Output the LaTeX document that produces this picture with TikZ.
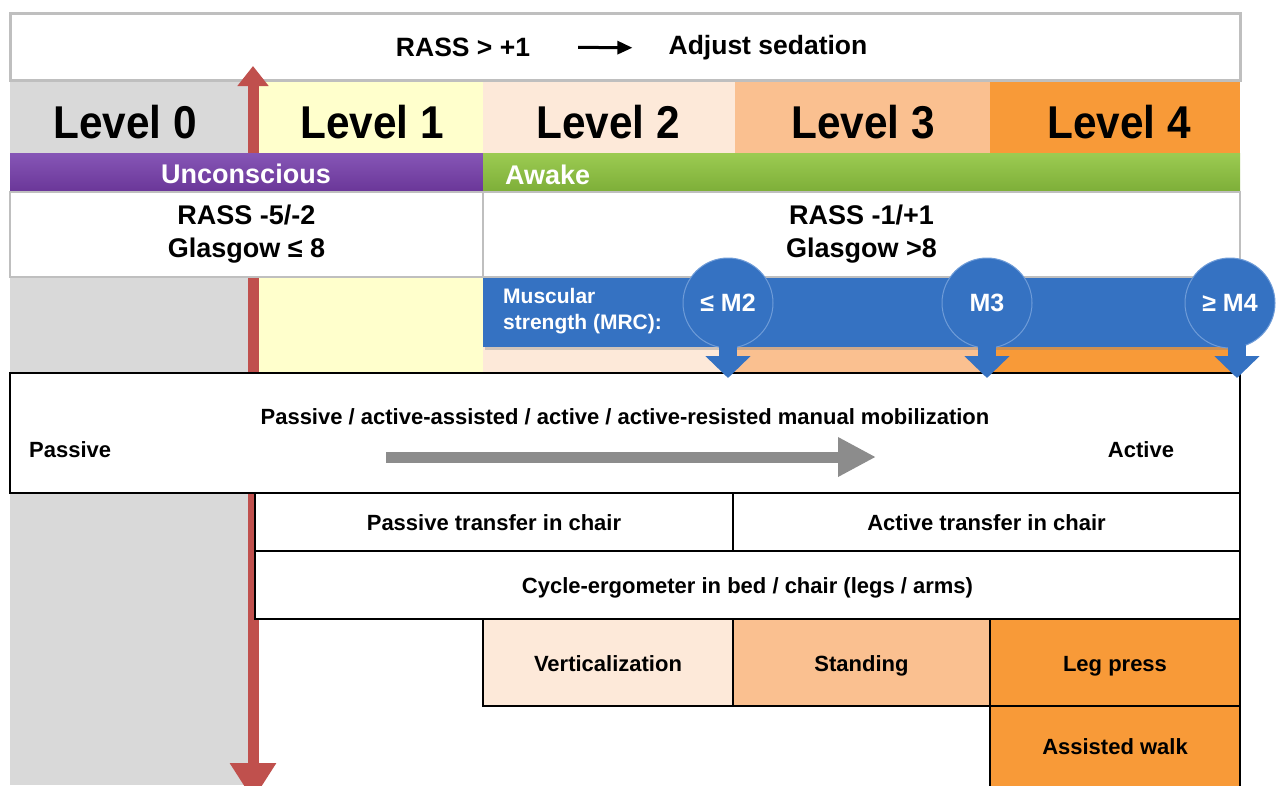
\documentclass[tikz,border=0pt]{standalone}
\usepackage{fontspec}
\setmainfont{Liberation Sans}
\newfontfamily\lvlfont[FakeStretch=0.92]{Liberation Sans}
\usetikzlibrary{arrows.meta,shadows}
\definecolor{lv0}{HTML}{D9D9D9}
\definecolor{lv1}{HTML}{FFFFCC}
\definecolor{lv2}{HTML}{FDE9D9}
\definecolor{lv3}{HTML}{FAC090}
\definecolor{lv4}{HTML}{F89A38}
\definecolor{purpT}{HTML}{8656B6}
\definecolor{purpB}{HTML}{6A3698}
\definecolor{grnT}{HTML}{9CCB52}
\definecolor{grnB}{HTML}{7DAE38}
\definecolor{blu}{HTML}{3572C2}
\definecolor{bluedge}{HTML}{6F9CD8}
\definecolor{redarr}{HTML}{C0504D}
\definecolor{grayarr}{HTML}{8C8C8C}
\definecolor{bord}{HTML}{BFBFBF}
\newcommand\fsz[2]{\fontsize{#1}{#2}\selectfont\bfseries}
\tikzset{
  cell/.style={rectangle, anchor=north west, inner sep=0pt, outer sep=0pt},
  blk/.style={cell, draw=black, line width=1.5pt, text height=19pt, text depth=2pt},
  lvl/.style={inner sep=0pt, font=\lvlfont\fsz{46}{50}},
  big/.style={inner sep=0pt, font=\fsz{26.5}{30}},
  mid/.style={inner sep=0pt, font=\fsz{27}{33}},
  sml/.style={font=\fsz{22}{26}},
  circ/.style={circle, fill=blu, draw=bluedge, line width=1pt, minimum size=90pt, inner sep=0pt, text=white, font=\fsz{25}{29}},
  downarr/.style={blu, line width=18pt, -{Triangle[width=44pt,length=22pt]}}
}
\begin{document}
\begin{tikzpicture}[x=1pt,y=-1pt]
\useasboundingbox (0,0) rectangle (1277,785);
\clip (0,0) rectangle (1277,785);
\fill[white] (0,0) rectangle (1277,785);

% level columns
\fill[lv0] (10,80) rectangle (250,785);
\fill[lv1] (250,80) rectangle (483,373);
\fill[lv2] (483,80) rectangle (735,373);
\fill[lv3] (735,80) rectangle (990,373);
\fill[lv4] (990,80) rectangle (1240,373);
\node[lvl] (l0) at (125,122) {Level 0};
\node[lvl] (l1) at (372,122) {Level 1};
\node[lvl] (l2) at (608,122) {Level 2};
\node[lvl] (l3) at (863,122) {Level 3};
\node[lvl] (l4) at (1119,122) {Level 4};

% top box
\node[cell, draw=bord, line width=3pt, fill=white, minimum width=1230pt, minimum height=67pt] (topbox) at (10,13) {};
\node[big] (rass) at (463,47) {RASS > +1};
\node[big] (adj) at (768,48) {Adjust sedation};
\draw[line width=3pt, -{Triangle[width=13pt,length=15pt]}, shorten <=48pt, shorten >=36pt] (rass.east) -- (adj.west);

% red arrow
\coordinate (rtop) at (253,66);
\coordinate (rbot) at (253,800);
\draw[redarr, line width=11pt, {Triangle[width=30pt,length=20pt]}-{Triangle[width=44pt,length=37pt]}] (rtop) -- (rbot);

% consciousness bars
\node[cell, top color=purpT, bottom color=purpB, minimum width=473pt, minimum height=39pt] (uncbar) at (10,153) {};
\node[mid, text=white] (unc) at (246,174) {Unconscious};
\node[cell, top color=grnT, bottom color=grnB, minimum width=757pt, minimum height=39pt] (awkbar) at (483,153) {};
\node[mid, text=white, anchor=west] (awk) at (505,175) {Awake};

% RASS boxes
\node[cell, draw=bord, line width=2.5pt, fill=white, minimum width=473pt, minimum height=85pt, align=center, font=\fsz{27}{33}] (rassL) at (10,192) {RASS -5/-2\\Glasgow ≤ 8};
\node[cell, draw=bord, line width=2.5pt, fill=white, minimum width=757pt, minimum height=85pt, align=center, font=\fsz{27}{33}] (rassR) at (483,192) {RASS -1/+1\\Glasgow >8};

% muscular strength bar
\node[cell, fill=blu, minimum width=760pt, minimum height=69pt, drop shadow={opacity=0.35, shadow xshift=2pt, shadow yshift=-3pt}] (mrc) at (483,278) {};
\node[anchor=west, inner sep=0pt, align=left, text=white, font=\fsz{21}{26}] (mrct) at (503,311) {Muscular\\strength (MRC):};
\node[circ] (m2) at (728,303) {≤ M2};
\node[circ] (m3) at (987,303) {M3};
\node[circ] (m4) at (1230,303) {≥ M4};

% main mobilization box
\node[blk, fill=white, minimum width=1230pt, minimum height=120pt] (main) at (10,373) {};
\node[sml, inner sep=0pt] (mtitle) at (625,417) {Passive / active-assisted / active / active-resisted manual mobilization};
\node[sml, inner sep=0pt, anchor=west] (pas) at (29,450) {Passive};
\node[sml, inner sep=0pt] (act) at (1141,450) {Active};
\coordinate (ga) at (386,457);
\coordinate (gb) at (876,457);
\draw[grayarr, line width=11pt, -{Triangle[width=37pt,length=38pt]}] (ga) -- (gb);

% strength down arrows
\coordinate (m2t) at (728,378);
\coordinate (m3t) at (987,378);
\coordinate (m4t) at (1237,378);
\draw[downarr] ([yshift=4pt]m2.south) -- (m2t);
\draw[downarr] ([yshift=4pt]m3.south) -- (m3t);
\draw[downarr] ([yshift=4pt,xshift=7pt]m4.south) -- (m4t);

% lower boxes
\node[blk, fill=white, minimum width=478pt, minimum height=58pt, sml] (ptc) at (255,493) {Passive transfer in chair};
\node[blk, fill=white, minimum width=507pt, minimum height=58pt, sml] (atc) at (733,493) {Active transfer in chair};
\node[blk, fill=white, minimum width=985pt, minimum height=68pt, sml] (cyc) at (255,551) {Cycle-ergometer in bed / chair (legs / arms)};
\node[blk, fill=lv2, minimum width=250pt, minimum height=87pt, sml] (vert) at (483,619) {Verticalization};
\node[blk, fill=lv3, minimum width=257pt, minimum height=87pt, sml] (stand) at (733,619) {Standing};
\node[blk, fill=lv4, minimum width=250pt, minimum height=87pt, sml] (leg) at (990,619) {Leg press};
\node[blk, fill=lv4, minimum width=250pt, minimum height=85pt] (walk) at (990,706) {};
\node[sml, inner sep=0pt] (walkt) at (1115,747) {Assisted walk};
\end{tikzpicture}
\end{document}
